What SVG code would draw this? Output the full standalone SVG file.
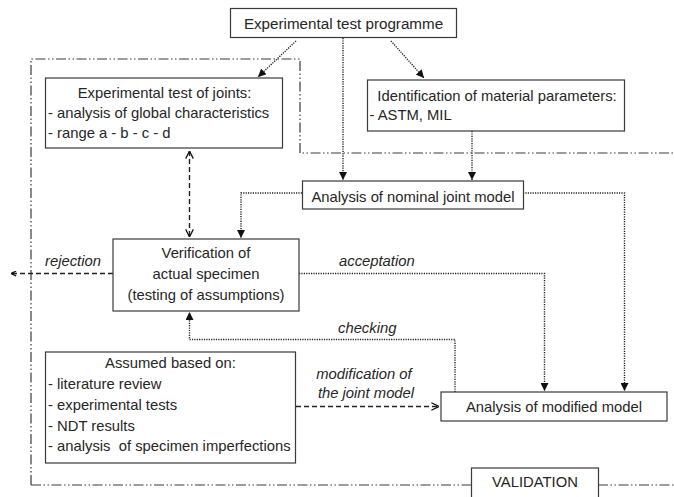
<svg xmlns="http://www.w3.org/2000/svg" width="674" height="497" viewBox="0 0 674 497">
  <style>
    .box { fill: #ffffff; stroke: #3a3a3a; stroke-width: 1.2; }
    text { font-family: "Liberation Sans", Arial, sans-serif; font-size: 14.8px; fill: #262626; }
    .c { text-anchor: middle; }
    .lbl { font-style: italic; }
    .frame { fill: none; stroke: #3a3a3a; stroke-width: 1.2; stroke-dasharray: 10 2.5 1.5 2.5 1.5 2.5; }
    .dot { fill: none; stroke: #222222; stroke-width: 1.4; stroke-dasharray: 1.2 1.2; }
    .dash { fill: none; stroke: #222222; stroke-width: 1.4; stroke-dasharray: 5 3; }
  </style>
  <defs>
    <marker id="solid" viewBox="0 0 10 10" refX="10" refY="5" markerWidth="8" markerHeight="8" markerUnits="userSpaceOnUse" orient="auto">
      <path d="M0,0 L10,5 L0,10 Z" fill="#111111"/>
    </marker>
    <marker id="open" viewBox="0 0 10 10" refX="9.5" refY="5" markerWidth="9" markerHeight="9" markerUnits="userSpaceOnUse" orient="auto-start-reverse">
      <path d="M1,0.8 L9.5,5 L1,9.2" fill="none" stroke="#111111" stroke-width="1.4"/>
    </marker>
    <marker id="small" viewBox="0 0 10 10" refX="9.5" refY="5" markerWidth="6" markerHeight="6" markerUnits="userSpaceOnUse" orient="auto">
      <path d="M1,1 L9.5,5 L1,9" fill="none" stroke="#111111" stroke-width="2"/>
    </marker>
  </defs>

  <!-- validation frame -->
  <g id="frame">
    <path class="frame" d="M31,485 L31,59 L300,59 L300,153 L674,153"/>
    <path class="frame" d="M31,485 L471,485"/>
    <path class="frame" d="M598,485 L674,485"/>
  </g>

  <!-- connectors -->
  <g id="connectors">
    <path class="dot" d="M296,41 L258,77" marker-end="url(#solid)"/>
    <path class="dot" d="M343,38 L343,180" marker-end="url(#solid)"/>
    <path class="dot" d="M391,41 L424,78" marker-end="url(#solid)"/>
    <path class="dot" d="M472,131 L472,180" marker-end="url(#solid)"/>
    <path class="dot" d="M302,193 L241,193 L241,238" marker-end="url(#solid)"/>
    <path class="dot" d="M523,193 L624.5,193 L624.5,391" marker-end="url(#solid)"/>
    <path class="dash" d="M189.5,151 L189.5,237" marker-start="url(#open)" marker-end="url(#open)"/>
    <path class="dash" d="M113,273.5 L11,273.5" marker-end="url(#small)"/>
    <path class="dot" d="M299,273.5 L544.5,273.5 L544.5,391" marker-end="url(#solid)"/>
    <path class="dot" d="M455,392 L455,339.5 L189.5,339.5 L189.5,312" marker-end="url(#solid)"/>
    <path class="dash" d="M296,406.5 L439,406.5" marker-end="url(#open)"/>
    <text class="lbl" x="45" y="266">rejection</text>
    <text class="lbl" x="339" y="266">acceptation</text>
    <text class="lbl" x="338" y="333">checking</text>
    <text class="lbl c" x="364" y="379">modification of</text>
    <text class="lbl c" x="366" y="398">the joint model</text>
  </g>

  <g id="programme">
    <rect class="box" x="230.5" y="8.5" width="226" height="29"/>
    <text class="c" x="343.5" y="29" style="font-size:15.2px">Experimental test programme</text>
  </g>

  <g id="joints">
    <rect class="box" x="45.5" y="78" width="237" height="70"/>
    <text class="c" x="164.5" y="97.5">Experimental test of joints:</text>
    <text x="48" y="118">- analysis of global characteristics</text>
    <text x="48" y="137.5">- range a - b - c - d</text>
  </g>

  <g id="material">
    <rect class="box" x="367.5" y="80" width="257" height="51"/>
    <text class="c" x="497" y="100.5">Identification of material parameters:</text>
    <text x="369.5" y="120">- ASTM, MIL</text>
  </g>

  <g id="nominal">
    <rect class="box" x="302.5" y="181" width="221" height="28"/>
    <text class="c" x="413" y="201.5">Analysis of nominal joint model</text>
  </g>

  <g id="verification">
    <rect class="box" x="113" y="239" width="186" height="72"/>
    <text class="c" x="206" y="258">Verification of</text>
    <text class="c" x="206" y="279">actual specimen</text>
    <text class="c" x="206" y="300">(testing of assumptions)</text>
  </g>

  <g id="assumed">
    <rect class="box" x="45.5" y="352" width="250" height="111"/>
    <text class="c" x="170.5" y="368">Assumed based on:</text>
    <text x="48" y="389">- literature review</text>
    <text x="48" y="410">- experimental tests</text>
    <text x="48" y="430.5">- NDT results</text>
    <text x="48" y="451" style="white-space:pre">- analysis  of specimen imperfections</text>
  </g>

  <g id="modified">
    <rect class="box" x="441" y="392" width="226" height="29"/>
    <text class="c" x="554" y="411.5">Analysis of modified model</text>
  </g>

  <g id="validation">
    <rect class="box" x="471.5" y="468" width="127" height="35"/>
    <text class="c" x="535" y="487">VALIDATION</text>
  </g>
</svg>
